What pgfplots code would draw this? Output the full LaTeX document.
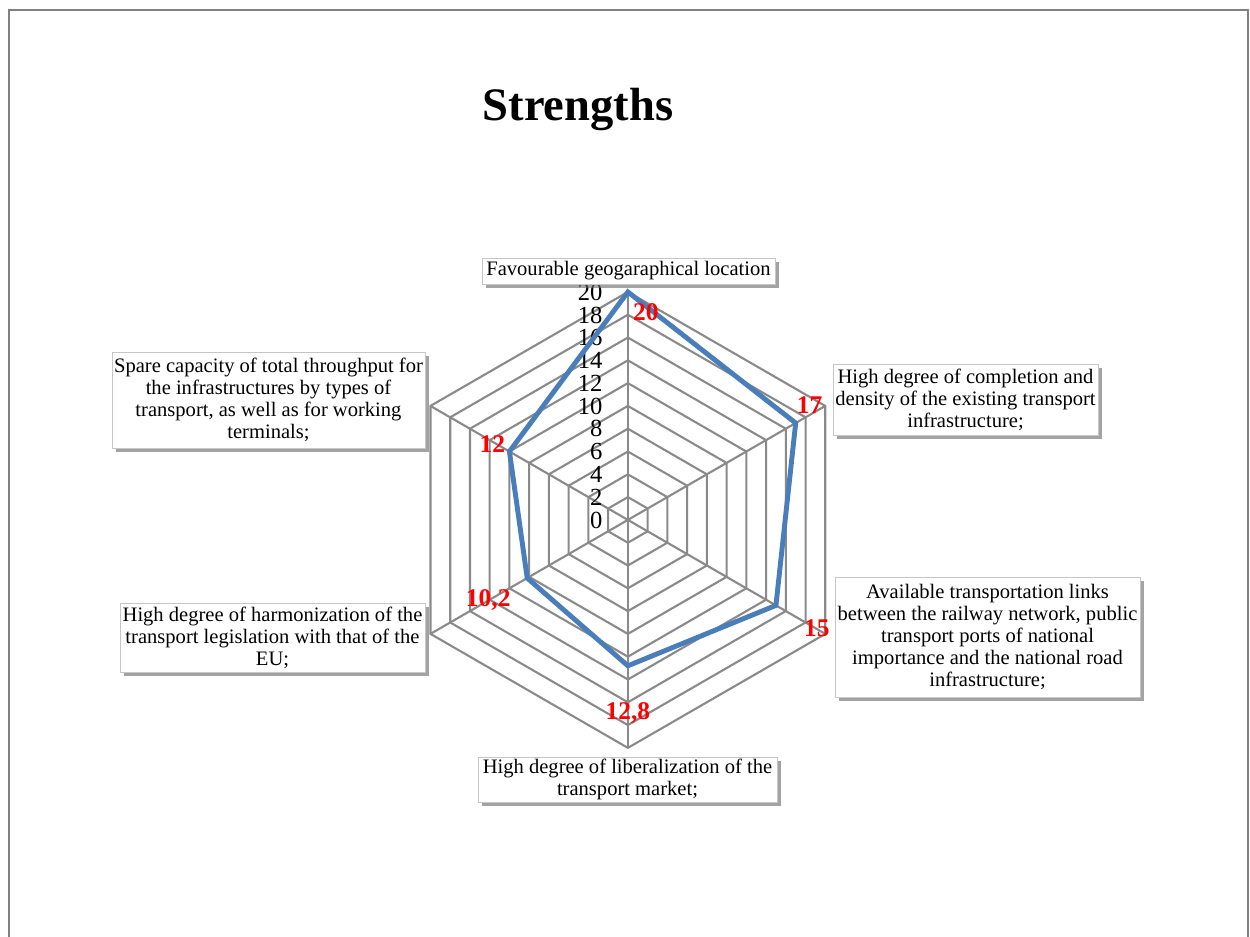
\documentclass[border=0pt]{standalone}
\usepackage{fontspec}
\setmainfont{Liberation Serif}
\usepackage{pgfplots}
\pgfplotsset{compat=1.18}
\usepgfplotslibrary{polar}
\usetikzlibrary{shadows}
\definecolor{series}{HTML}{4A7EBB}
\definecolor{gridc}{HTML}{8A8A8A}
\definecolor{framec}{HTML}{808080}

\begin{document}
\begin{tikzpicture}[x=0.02cm,y=-0.02cm]
\tikzset{cat/.style={draw=gray!45, fill=white, align=center, inner sep=1pt,
    font=\fontsize{11.7}{12.5}\selectfont,
    drop shadow={shadow xshift=2.2pt, shadow yshift=-2.2pt, opacity=0.6, fill=gray!80!black}}}
\useasboundingbox (0,0) rectangle (1250,936);
\draw[framec, line width=1.2pt] (9,960) -- (9,10) -- (1248,10) -- (1248,960);
\node[font=\fontsize{26.5}{30}\selectfont\bfseries, anchor=base] at (578,120) {Strengths};

\begin{polaraxis}[
    at={(12.56cm,-10.4cm)}, anchor=center,
    scale only axis, width=9.12cm, height=9.12cm,
    xmin=0, xmax=360, ymin=0, ymax=20,
    hide axis, clip=false,
]
% hexagon grid
\pgfplotsinvokeforeach{2,4,...,20}{
  \addplot[gridc, line width=1.2pt, no marks]
    coordinates {(90,#1) (30,#1) (330,#1) (270,#1) (210,#1) (150,#1) (90,#1) (30,#1)};
}
\pgfplotsinvokeforeach{30,90,150,210,270,330}{
  \addplot[gridc, line width=1.2pt, no marks] coordinates {(#1,0) (#1,20)};
}
% radial tick labels
\pgfplotsinvokeforeach{0,2,...,20}{
  \node[anchor=east, inner sep=0pt, xshift=-0.5cm, text height=9.4pt, text depth=0pt,
        font=\fontsize{14}{14}\selectfont] at (axis cs:90,#1) {#1};
}
% series
\addplot[series, line width=2.8pt, no marks]
  coordinates {(90,20) (30,17) (330,15) (270,12.8) (210,10.2) (150,12) (90,20) (30,17)};
% value labels
\begin{scope}[every node/.style={text=red, inner sep=0pt,
      font=\fontsize{14.5}{14.5}\selectfont\bfseries}]
\node[xshift=0.36cm, yshift=-0.40cm] at (axis cs:90,20) {20};
\node[xshift=0.28cm, yshift=0.36cm] at (axis cs:30,17) {17};
\node[xshift=0.82cm, yshift=-0.46cm] at (axis cs:330,15) {15};
\node[yshift=-0.94cm] at (axis cs:270,12.8) {12,8};
\node[xshift=-0.78cm, yshift=-0.44cm] at (axis cs:210,10.2) {10,2};
\node[xshift=-0.34cm, yshift=0.14cm] at (axis cs:150,12) {12};
\end{scope}
\end{polaraxis}

% category labels
\node[cat, minimum width=5.86cm, minimum height=0.52cm] at (628.5,271)
  {Favourable geogaraphical location};
\node[cat, minimum width=5.30cm, minimum height=1.42cm] at (965.5,399.5)
  {High degree of completion and\\density of the existing transport\\infrastructure;};
\node[cat, minimum width=6.10cm, minimum height=2.40cm] at (987.5,637)
  {Available transportation links\\between the railway network, public\\transport ports of national\\importance and the national road\\infrastructure;};
\node[cat, minimum width=5.98cm, minimum height=0.90cm] at (627.5,779.5)
  {High degree of liberalization of the\\transport market;};
\node[cat, minimum width=6.10cm, minimum height=1.38cm] at (272.5,637.5)
  {High degree of harmonization of the\\transport legislation with that of the\\EU;};
\node[cat, minimum width=6.26cm, minimum height=1.92cm] at (268.5,400)
  {Spare capacity of total throughput for\\the infrastructures by types of\\transport, as well as for working\\terminals;};
\end{tikzpicture}
\end{document}
